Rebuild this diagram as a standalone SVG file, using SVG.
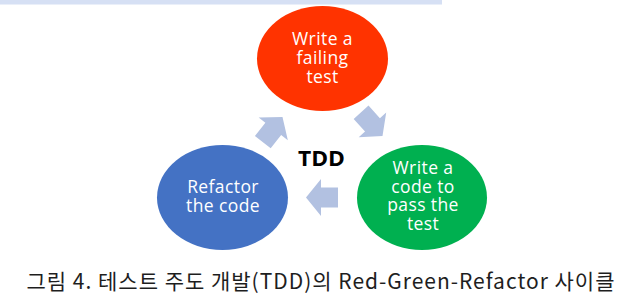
<svg xmlns="http://www.w3.org/2000/svg" width="640" height="306" viewBox="0 0 640 306">
  <style>
    .node-text { font-family: "Open Sans", "Liberation Sans", sans-serif; font-size: 17.5px; letter-spacing: 0.4px; fill: #ffffff; text-anchor: middle; }
    .arrow { fill: #b2c1e1; }
    .title { font-family: "Open Sans", "Liberation Sans", sans-serif; font-size: 22px; font-weight: bold; fill: #000000; text-anchor: middle; }
    .caption { font-family: "Noto Sans CJK KR", "Noto Sans", sans-serif; font-size: 21px; fill: #1e1e1e; }
  </style>
  <defs>
    <path id="blockArrow" d="M0,0 L-15,-18.5 L-15,-10 L-32,-10 L-32,10 L-15,10 L-15,18.5 Z"/>
  </defs>
  <rect x="0" y="0" width="442" height="4.5" fill="#d6e0f4"/>
  <g id="connectors">
    <use href="#blockArrow" class="arrow" transform="translate(382.5,136) rotate(48)"/>
    <use href="#blockArrow" class="arrow" transform="translate(306,197.5) rotate(180)"/>
    <use href="#blockArrow" class="arrow" transform="translate(282.5,117) rotate(-52)"/>
  </g>
  <g id="node-red">
    <ellipse cx="322.5" cy="58.5" rx="65.5" ry="52.5" fill="#ff3300"/>
    <text class="node-text" x="322.5" y="45">Write a</text>
    <text class="node-text" x="322.5" y="64">failing</text>
    <text class="node-text" x="322.5" y="82.5">test</text>
  </g>
  <g id="node-green">
    <ellipse cx="422" cy="197.5" rx="65" ry="52.5" fill="#00b050"/>
    <text class="node-text" x="423" y="174">Write a</text>
    <text class="node-text" x="423" y="192.5">code to</text>
    <text class="node-text" x="423" y="211">pass the</text>
    <text class="node-text" x="423" y="229.5">test</text>
  </g>
  <g id="node-blue">
    <ellipse cx="222.5" cy="197.5" rx="65.5" ry="52.5" fill="#4472c4"/>
    <text class="node-text" x="223" y="193">Refactor</text>
    <text class="node-text" x="223" y="212">the code</text>
  </g>
  <g id="label-tdd">
    <text class="title" x="321.5" y="165.5" textLength="47" lengthAdjust="spacingAndGlyphs">TDD</text>
  </g>
  <text class="caption" x="26.5" y="289" textLength="588" lengthAdjust="spacing">그림 4. 테스트 주도 개발(TDD)의 Red-Green-Refactor 사이클</text>
</svg>
